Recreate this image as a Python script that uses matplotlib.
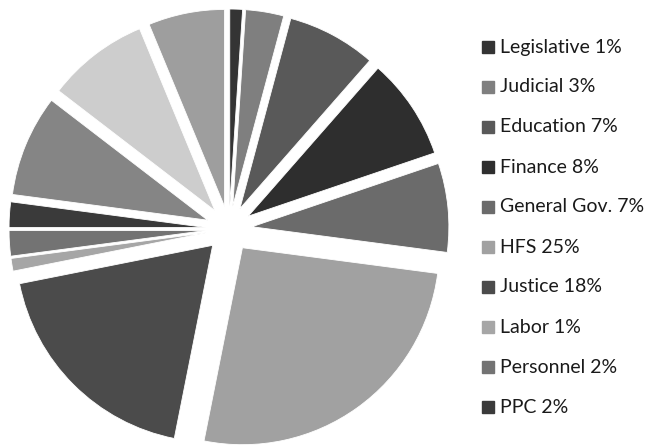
import matplotlib.pyplot as plt
from matplotlib.patches import Rectangle

# budget shares by agency, clockwise from twelve o'clock
agencies = ["Legislative", "Judicial", "Education", "Finance", "General Gov.",
            "HFS", "Justice", "Labor", "Personnel", "PPC",
            "Revenue", "Transportation", "Other"]
shares = [1, 3, 7, 8, 7, 25, 18, 1, 2, 2, 8, 8, 6]
colors = ["#343434", "#7f7f7f", "#595959", "#2e2e2e", "#6b6b6b", "#a1a1a1",
          "#4b4b4b", "#a6a6a6", "#737373", "#3a3a3a", "#858585", "#cdcdcd",
          "#9e9e9e"]
n_legend = 10  # only the first ten fit in the key

fig = plt.figure(figsize=(6.57, 4.48), dpi=100)
ax = fig.add_axes([229 / 657 - 220 / 657, (219 - 220) / 448, 440 / 657, 440 / 448])
ax.pie(shares, colors=colors, startangle=90, counterclock=False,
       explode=[0.117] * len(shares), radius=1.0,
       wedgeprops=dict(edgecolor="white", linewidth=0.6))
ax.set_xlim(-1.117, 1.117)
ax.set_ylim(-1.117, 1.117)
ax.set_aspect("equal")
ax.axis("off")

# key on the right
for i in range(n_legend):
    yc = 1 - (47 + i * 40) / 448
    fig.patches.append(Rectangle((482 / 657, yc - 6 / 448), 12 / 657, 12 / 448,
                                 transform=fig.transFigure, color=colors[i]))
    fig.text(500 / 657, yc, f"{agencies[i]} {shares[i]}%", fontsize=14,
             family="Lato", color="#1a1a1a", va="center", ha="left")

fig.savefig("out.png", dpi=100)
